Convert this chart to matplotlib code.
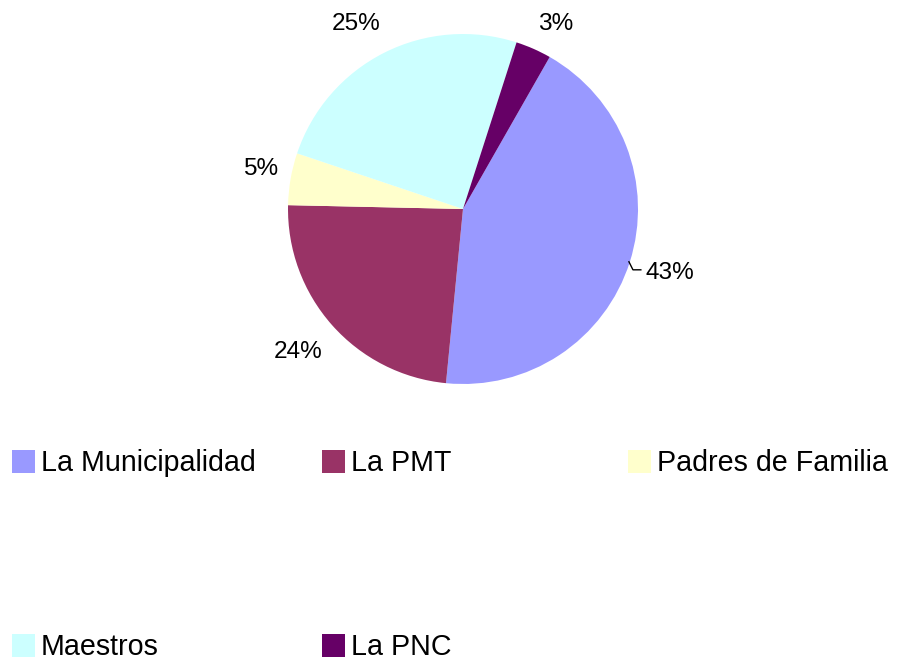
import matplotlib.pyplot as plt
from matplotlib.patches import Rectangle
import numpy as np

plt.rcParams['font.family'] = ['Liberation Sans', 'DejaVu Sans']

# data
labels = ['La Municipalidad', 'La PMT', 'Padres de Familia', 'Maestros', 'La PNC']
values = [43.3, 23.8, 4.8, 24.8, 3.3]
colors = ['#9999FF', '#993366', '#FFFFCC', '#CCFFFF', '#660066']

# small nudges of the % labels (axes units), Excel places them a bit differently
nudge = [(0.01, 0.005), (-0.02, 0.0), (0.057, 0.017), (-0.057, -0.04), (0.034, -0.069)]

W, H = 899, 660
fig = plt.figure(figsize=(W / 100, H / 100), dpi=100)

# pie axes: 350px box centred at (463, 209)
ax = fig.add_axes([288 / W, 1 - 384 / H, 350 / W, 350 / H])
wedges, _, autotexts = ax.pie(values, colors=colors, startangle=60.3,
                              counterclock=False, radius=1,
                              autopct='%1.0f%%', pctdistance=1.23,
                              wedgeprops=dict(linewidth=0),
                              textprops=dict(fontsize=17.6, color='black'))
for t, (dx, dy) in zip(autotexts, nudge):
    x, y = t.get_position()
    t.set_position((x + dx, y + dy))
ax.set_xlim(-1, 1)
ax.set_ylim(-1, 1)
ax.set_aspect('equal')
ax.axis('off')

# small leader line for the biggest slice
w = wedges[0]
mid = np.deg2rad((w.theta1 + w.theta2) / 2)
p0 = np.array([np.cos(mid), np.sin(mid)]) * 0.995
p1 = p0 + np.array([0.023, -0.046])
ax.plot([p0[0], p1[0], p1[0] + 0.045], [p0[1], p1[1], p1[1]],
        color='black', lw=1, clip_on=False)

# legend laid out like the original (3 columns, 2 widely spaced rows)
col_x = [12, 322, 628]
row_y = [462, 646]
for i, (lab, col) in enumerate(zip(labels, colors)):
    x = col_x[i % 3]
    y = row_y[i // 3]
    fig.patches.append(Rectangle((x / W, 1 - (y + 11) / H), 23 / W, 23 / H,
                                 transform=fig.transFigure, facecolor=col,
                                 edgecolor='none'))
    fig.text((x + 29) / W, 1 - (y + 1) / H, lab, fontsize=20.6, va='center',
             ha='left', color='black')

fig.savefig('out.png', dpi=100, facecolor='white')
